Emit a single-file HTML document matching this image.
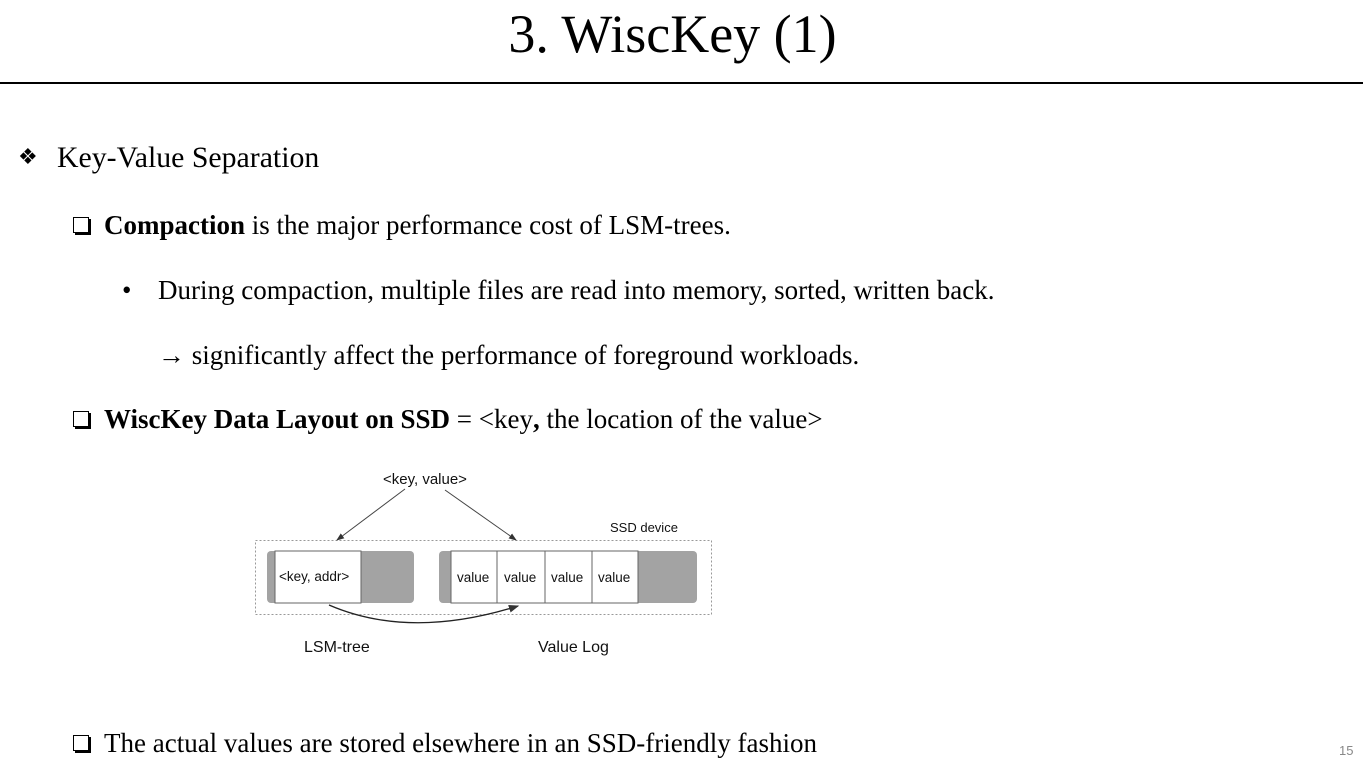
<!DOCTYPE html>
<html><head><meta charset="utf-8"><style>
body{margin:0;width:1363px;height:773px;background:#fff;position:relative;overflow:hidden;font-family:"Liberation Serif",serif;color:#000}
.t{position:absolute;white-space:nowrap;line-height:1}
.cb{position:absolute;width:14px;height:14px;border:1.5px solid #000;box-shadow:2px 2px 0 #000;background:#fff}
.s{font-family:"Liberation Sans","DejaVu Sans",sans-serif;font-size:14px;position:absolute;white-space:nowrap;line-height:1;color:#111}
</style></head><body>
<div class="t" style="left:0;width:1345px;text-align:center;top:7px;font-size:54px">3. WiscKey (1)</div>
<div style="position:absolute;left:0;top:82px;width:1363px;height:2px;background:#000"></div>

<div class="t" style="left:18px;top:146px;font-size:22px">❖</div>
<div class="t" style="left:57px;top:143px;font-size:29.8px">Key-Value Separation</div>

<div class="cb" style="left:73px;top:217px"></div>
<div class="t" style="left:104px;top:212px;font-size:27px"><b>Compaction</b> is the major performance cost of LSM-trees.</div>

<div class="t" style="left:122px;top:277px;font-size:27px">•</div>
<div class="t" style="left:158px;top:277px;font-size:27px">During compaction, multiple files are read into memory, sorted, written back.</div>

<div class="t" style="left:158px;top:342px;font-size:27px"><b>→</b> significantly affect the performance of foreground workloads.</div>

<div class="cb" style="left:73px;top:411px"></div>
<div class="t" style="left:104px;top:406px;font-size:27px"><b>WiscKey Data Layout on SSD</b> = &lt;key<b>,</b> the location of the value&gt;</div>

<div class="cb" style="left:73px;top:735px"></div>
<div class="t" style="left:104px;top:730px;font-size:27px">The actual values are stored elsewhere in an SSD-friendly fashion</div>

<div class="s" style="left:1339px;top:744px;font-size:13px;color:#888">15</div>

<svg style="position:absolute;left:0;top:0" width="1363" height="773">
<defs><marker id="a" markerWidth="8" markerHeight="8" refX="7" refY="4" orient="auto"><path d="M0,1 L8,4 L0,7z" fill="#333"/></marker></defs>
<rect x="255.5" y="540.5" width="456" height="74" fill="none" stroke="#999" stroke-dasharray="2,2"/>
<rect x="267" y="551" width="147" height="52" rx="4" fill="#a3a3a3"/>
<rect x="275" y="551" width="86" height="52" fill="#fff" stroke="#666"/>
<rect x="439" y="551" width="258" height="52" rx="4" fill="#a3a3a3"/>
<rect x="451" y="551" width="46" height="52" fill="#fff" stroke="#666"/>
<rect x="497" y="551" width="48" height="52" fill="#fff" stroke="#666"/>
<rect x="545" y="551" width="47" height="52" fill="#fff" stroke="#666"/>
<rect x="592" y="551" width="46" height="52" fill="#fff" stroke="#666"/>
<line x1="405" y1="489" x2="337" y2="540" stroke="#444" marker-end="url(#a)"/>
<line x1="445" y1="490" x2="516" y2="540" stroke="#444" marker-end="url(#a)"/>
<path d="M329,605 Q410,640 518,606" fill="none" stroke="#222" stroke-width="1.3" marker-end="url(#a)"/>
</svg>
<div class="s" style="left:383px;top:472px;font-size:15px">&lt;key, value&gt;</div>
<div class="s" style="left:610px;top:521px;font-size:13px">SSD device</div>
<div class="s" style="left:279px;top:570px;font-size:13.5px">&lt;key, addr&gt;</div>
<div class="s" style="left:457px;top:571px;font-size:13.5px">value</div>
<div class="s" style="left:504px;top:571px;font-size:13.5px">value</div>
<div class="s" style="left:551px;top:571px;font-size:13.5px">value</div>
<div class="s" style="left:598px;top:571px;font-size:13.5px">value</div>
<div class="s" style="left:304px;top:640px;font-size:16px">LSM-tree</div>
<div class="s" style="left:538px;top:640px;font-size:16px">Value Log</div>
</body></html>
